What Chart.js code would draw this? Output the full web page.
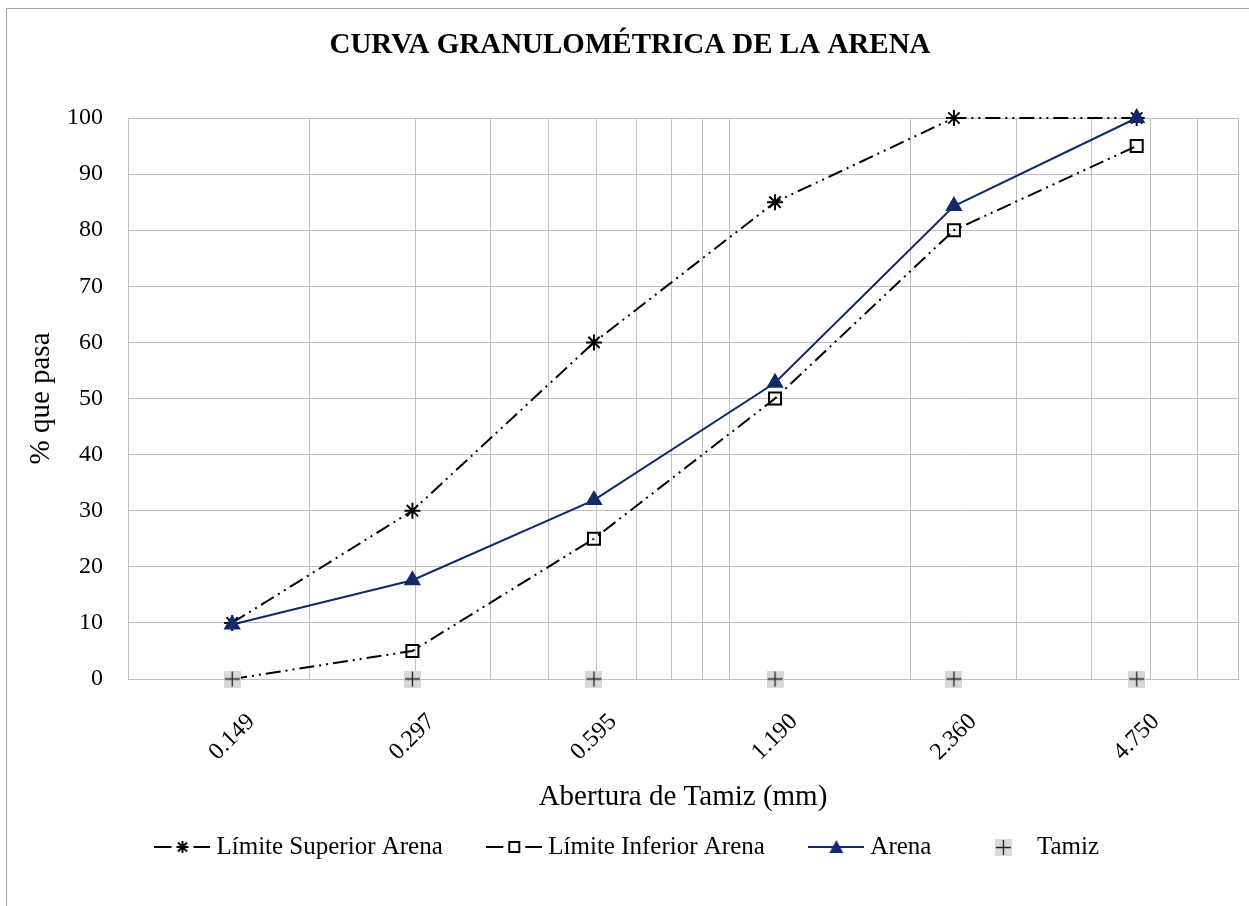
<!DOCTYPE html>
<html>
<head>
<meta charset="utf-8">
<title>Curva granulométrica de la arena</title>
<script src="https://cdn.jsdelivr.net/npm/chart.js@4.4.1/dist/chart.umd.min.js"></script>
<style>
  html, body { margin: 0; padding: 0; background: #fff; }
  #wrap { position: relative; width: 1249px; height: 906px; }
</style>
</head>
<body>
<div id="wrap"><canvas id="curva" width="1249" height="906"></canvas></div>
<script>
// aberturas de tamiz (mm)
const tamices = [0.149, 0.297, 0.595, 1.190, 2.360, 4.750]
const limiteSuperior = [10, 30, 60, 85, 100, 100]
const limiteInferior = [0, 5, 25, 50, 80, 95]
const arena = [9.7, 17.6, 31.9, 52.8, 84.3, 100]
const tamiz = [0, 0, 0, 0, 0, 0]
// lineas de la grilla logaritmica
const lineasGrilla = [0.1, 0.2, 0.3, 0.4, 0.5, 0.6, 0.7, 0.8, 0.9, 1, 2, 3, 4, 5, 6, 7]
const yTicks = [0, 10, 20, 30, 40, 50, 60, 70, 80, 90, 100]

const serif = "'Liberation Serif', 'Times New Roman', serif"
const navy = '#0E2A6B'
const gris = '#BFBFBF'
const dashDotDot = [15, 5, 2, 5, 2, 5]

const toPoints = (vals) => tamices.map((t, i) => ({ x: t, y: vals[i] }))

const makeCanvas = (w, h, draw) => {
  const c = document.createElement('canvas')
  c.width = w
  c.height = h
  draw(c.getContext('2d'))
  return c
}

const drawStar = (ctx, x, y, r) => {
  ctx.beginPath()
  ctx.moveTo(x - r, y); ctx.lineTo(x + r, y)
  ctx.moveTo(x, y - r); ctx.lineTo(x, y + r)
  const d = r * 0.75
  ctx.moveTo(x - d, y - d); ctx.lineTo(x + d, y + d)
  ctx.moveTo(x - d, y + d); ctx.lineTo(x + d, y - d)
  ctx.stroke()
}

const tamizMarker = makeCanvas(17, 17, (ctx) => {
  ctx.fillStyle = '#D9D9D9'
  ctx.fillRect(0, 0, 17, 17)
  ctx.strokeStyle = '#222'
  ctx.lineWidth = 1.3
  ctx.beginPath()
  ctx.moveTo(1, 8.5); ctx.lineTo(16, 8.5)
  ctx.moveTo(8.5, 1); ctx.lineTo(8.5, 16)
  ctx.stroke()
})

const legendSymbol = (kind) => makeCanvas(56, 20, (ctx) => {
  const cy = 10
  if (kind !== 'tamiz') {
    ctx.strokeStyle = kind === 'arena' ? navy : '#000'
    ctx.lineWidth = 2
    ctx.beginPath()
    if (kind === 'arena') {
      ctx.moveTo(0, cy); ctx.lineTo(56, cy)
    } else {
      ctx.moveTo(0, cy); ctx.lineTo(17, cy)
      ctx.moveTo(39, cy); ctx.lineTo(56, cy)
    }
    ctx.stroke()
  }
  if (kind === 'sup') {
    ctx.strokeStyle = '#000'
    ctx.lineWidth = 2
    drawStar(ctx, 28, cy, 6)
  } else if (kind === 'inf') {
    ctx.strokeStyle = '#000'
    ctx.lineWidth = 2
    ctx.strokeRect(23, cy - 5, 10, 10)
  } else if (kind === 'arena') {
    ctx.fillStyle = navy
    ctx.beginPath()
    ctx.moveTo(28, cy - 7); ctx.lineTo(35, cy + 6); ctx.lineTo(21, cy + 6)
    ctx.closePath()
    ctx.fill()
  } else {
    ctx.drawImage(tamizMarker, 20, 2)
  }
})

const simbolos = [legendSymbol('sup'), legendSymbol('inf'), legendSymbol('arena'), legendSymbol('tamiz')]

const bordePlugin = {
  id: 'borde',
  beforeDraw(chart) {
    const ctx = chart.ctx
    ctx.save()
    ctx.fillStyle = '#fff'
    ctx.fillRect(0, 0, chart.width, chart.height)
    ctx.strokeStyle = '#A6A6A6'
    ctx.lineWidth = 1
    ctx.strokeRect(6.5, 8.5, 1400, 1000)
    ctx.restore()
  }
}

const esTamiz = (v) => tamices.includes(v)

new Chart(document.getElementById('curva'), {
  type: 'scatter',
  data: {
    datasets: [
      {
        label: 'Límite Superior Arena',
        data: toPoints(limiteSuperior),
        showLine: true,
        borderColor: '#000',
        borderWidth: 2,
        borderDash: dashDotDot,
        pointStyle: 'star',
        pointRadius: 8,
        pointBorderWidth: 2,
        pointBorderColor: '#000',
        pointBackgroundColor: '#000',
        clip: false,
        order: 2
      },
      {
        label: 'Límite Inferior Arena',
        data: toPoints(limiteInferior),
        showLine: true,
        borderColor: '#000',
        borderWidth: 2,
        borderDash: dashDotDot,
        pointStyle: 'rect',
        pointRadius: 8.5,
        pointBorderWidth: 2,
        pointBorderColor: '#000',
        pointBackgroundColor: 'rgba(0,0,0,0)',
        clip: false,
        order: 2
      },
      {
        label: 'Arena',
        data: toPoints(arena),
        showLine: true,
        borderColor: navy,
        borderWidth: 2,
        pointStyle: 'triangle',
        pointRadius: 10,
        pointBorderWidth: 0,
        pointBorderColor: navy,
        pointBackgroundColor: navy,
        clip: false,
        order: 0
      },
      {
        label: 'Tamiz',
        data: toPoints(tamiz),
        showLine: false,
        pointStyle: tamizMarker,
        pointRadius: 8,
        clip: false,
        order: 1
      }
    ]
  },
  options: {
    animation: false,
    responsive: false,
    events: [],
    layout: {
      padding: { left: 22, right: 11, top: 0, bottom: 36.5 }
    },
    scales: {
      x: {
        type: 'logarithmic',
        min: 0.1,
        max: 7,
        afterBuildTicks: (scale) => {
          const vals = lineasGrilla.concat(tamices).sort((a, b) => a - b)
          scale.ticks = vals.map((v) => ({ value: v }))
        },
        afterFit: (scale) => {
          scale.height = 105.5
          scale.paddingLeft = 0
          scale.paddingRight = 0
        },
        grid: {
          drawTicks: false,
          color: (c) => (c.tick && esTamiz(c.tick.value)) ? 'rgba(0,0,0,0)' : gris,
          lineWidth: 1
        },
        border: { color: gris, width: 1 },
        ticks: {
          autoSkip: false,
          minRotation: 45,
          maxRotation: 45,
          padding: 29,
          labelOffset: 19,
          color: '#000',
          font: { family: serif, size: 24 },
          callback: (v) => esTamiz(v) ? v.toFixed(3) : ''
        },
        title: {
          display: true,
          text: 'Abertura de Tamiz (mm)',
          color: '#000',
          font: { family: serif, size: 29, weight: 'normal' },
          padding: { top: 0, bottom: -29.9 }
        }
      },
      y: {
        min: 0,
        max: 100,
        afterBuildTicks: (scale) => {
          scale.ticks = yTicks.map((v) => ({ value: v }))
        },
        afterFit: (scale) => { scale.width = 106 },
        grid: { drawTicks: false, color: gris, lineWidth: 1 },
        border: { color: gris, width: 1 },
        ticks: {
          padding: 25,
          color: '#000',
          font: { family: serif, size: 24 }
        },
        title: {
          display: true,
          text: '% que pasa',
          color: '#000',
          font: { family: serif, size: 29, weight: 'normal' },
          padding: { top: 1.6, bottom: 0 }
        }
      }
    },
    plugins: {
      title: {
        display: true,
        text: 'CURVA GRANULOMÉTRICA DE LA ARENA',
        color: '#000',
        font: { family: serif, size: 29, weight: 'bold' },
        padding: { top: 28.6, bottom: 54.6 }
      },
      legend: {
        position: 'bottom',
        labels: {
          usePointStyle: true,
          pointStyleWidth: 43,
          padding: 50,
          color: '#000',
          font: { family: serif, size: 25 },
          generateLabels: (chart) => chart.data.datasets.map((ds, i) => ({
            text: ds.label,
            pointStyle: simbolos[i],
            datasetIndex: i,
            hidden: false,
            fontColor: '#000',
            lineWidth: 0,
            strokeStyle: 'rgba(0,0,0,0)',
            fillStyle: 'rgba(0,0,0,0)'
          }))
        }
      },
      tooltip: { enabled: false }
    }
  },
  plugins: [bordePlugin]
})
</script>
</body>
</html>
